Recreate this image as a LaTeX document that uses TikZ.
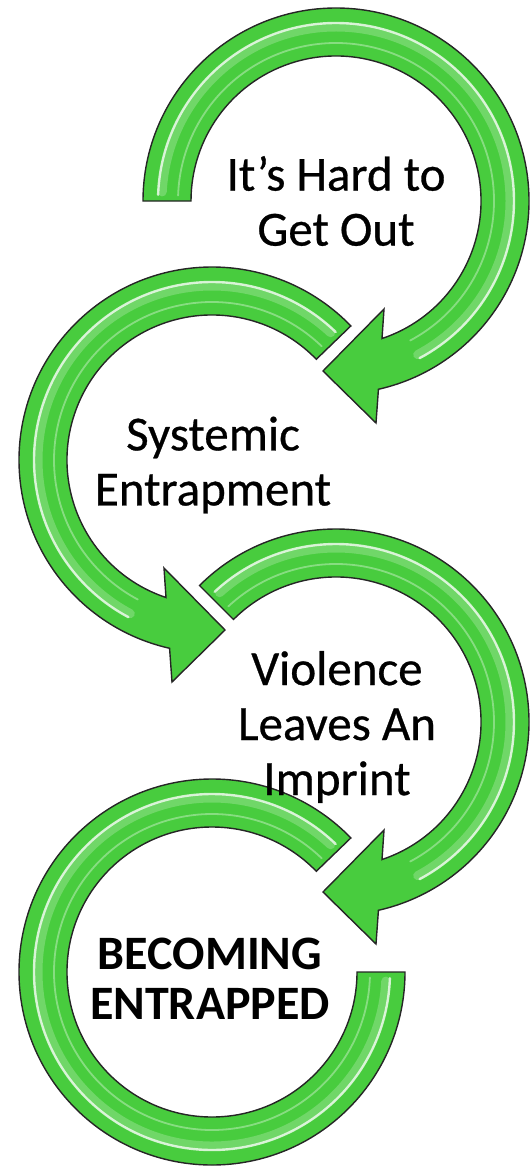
\documentclass[tikz,border=0pt]{standalone}
\usepackage{fontspec}
\setmainfont{Carlito}
\newfontfamily\ringfont{Carlito}[FakeBold=0.6]
\usepackage{tikz}

\definecolor{ringgreen}{RGB}{72,204,62}
\tikzset{
  ring/.style={fill=ringgreen, draw=black!85, line width=1.4pt, line join=miter},
  glow/.style={draw=white, line width=9pt, opacity=0.22, line cap=round},
  gloss/.style={draw=white, line width=2.4pt, opacity=0.75, line cap=round},
  softgloss/.style={draw=white, line width=1.8pt, opacity=0.35, line cap=round},
  ringtext/.style={align=center, inner sep=0pt, font=\ringfont\fontsize{49}{55}\selectfont}
}

\begin{document}
\begin{tikzpicture}[x=1pt,y=1pt]
\useasboundingbox (0,0) rectangle (532,-1169);

\begin{scope}[shift={(336,-201)}]
\draw[ring] (180:145) -- (180:193) arc[start angle=180, end angle=-77.3, radius=193] -- (40,-222) -- (-13,-170) -- (48,-108) -- (-71.5:145) arc[start angle=-71.5, end angle=180, radius=145] -- cycle;
\draw[glow] (177:174) arc[start angle=177, end angle=-62, radius=174];
\draw[gloss] (178:178) arc[start angle=178, end angle=-62, radius=178];
\draw[softgloss] (178:158) arc[start angle=178, end angle=-62, radius=158];
\end{scope}

\begin{scope}[shift={(212,-460)}]
\draw[ring] (44:145) -- (44:193) arc[start angle=44, end angle=257.3, radius=193] -- (-40,-222) -- (13,-170) -- (-48,-108) -- (251.5:145) arc[start angle=251.5, end angle=44, radius=145] -- cycle;
\draw[glow] (47:174) arc[start angle=47, end angle=242, radius=174];
\draw[gloss] (46:178) arc[start angle=46, end angle=242, radius=178];
\draw[softgloss] (46:158) arc[start angle=46, end angle=242, radius=158];
\end{scope}

\begin{scope}[shift={(336,-722)}]
\draw[ring] (135:145) -- (135:193) arc[start angle=135, end angle=-77.3, radius=193] -- (40,-222) -- (-13,-170) -- (48,-108) -- (-71.5:145) arc[start angle=-71.5, end angle=135, radius=145] -- cycle;
\draw[glow] (132:174) arc[start angle=132, end angle=-62, radius=174];
\draw[gloss] (133:178) arc[start angle=133, end angle=-62, radius=178];
\draw[softgloss] (133:158) arc[start angle=133, end angle=-62, radius=158];
\end{scope}

\begin{scope}[shift={(212,-972)}]
\draw[ring] (44:145) -- (44:193) arc[start angle=44, end angle=360, radius=193] -- (0:145) arc[start angle=360, end angle=44, radius=145] -- cycle;
\draw[glow] (47:174) arc[start angle=47, end angle=357, radius=174];
\draw[gloss] (46:178) arc[start angle=46, end angle=358, radius=178];
\draw[softgloss] (46:158) arc[start angle=46, end angle=358, radius=158];
\end{scope}

\node[ringtext] (hard) at (336,-201) {It’s Hard to\\Get Out};
\node[ringtext] (systemic) at (213,-465) {Systemic\\Entrapment};
\node[ringtext] (violence) at (337,-727) {Violence\\Leaves An\\Imprint};
\node[ringtext, font=\bfseries\fontsize{48}{50}\selectfont] (becoming) at (210,-979) {BECOMING\\ENTRAPPED};
\end{tikzpicture}
\end{document}
